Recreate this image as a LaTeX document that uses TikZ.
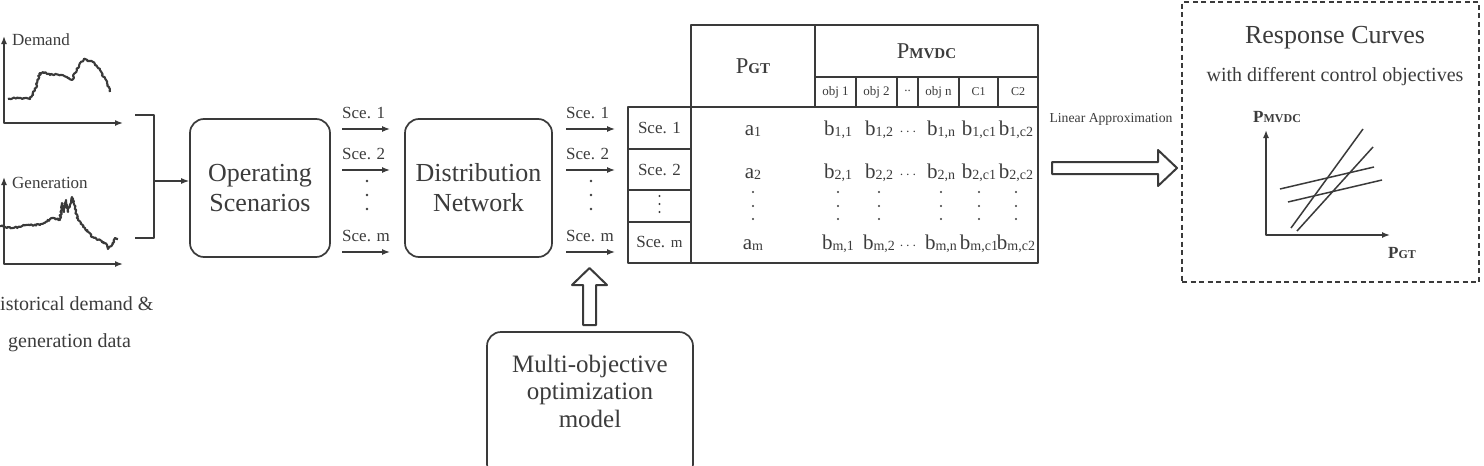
\documentclass[tikz,border=0pt]{standalone}
\usepackage{fontspec}
\setmainfont{Liberation Serif}
\usetikzlibrary{arrows.meta,decorations.pathmorphing}
\definecolor{ink}{HTML}{3A3A3A}
\definecolor{tx}{HTML}{3C3C3C}
\newcommand\sbx[1]{\raisebox{-1pt}{\fontsize{14}{14}\selectfont #1}}
\begin{document}
\begin{tikzpicture}[x=1pt,y=-1pt,line join=round,
  every node/.style={text=tx,inner sep=0pt},
  ln/.style={draw=ink,line width=1.5pt},
  tl/.style={draw=ink,line width=1.7pt},
  box/.style={draw=ink,line width=1.7pt,rounded corners=14pt},
  arr/.style={draw=ink,line width=1.3pt,-{Latex[length=8pt,width=6pt]}},
  axis/.style={draw=ink,line width=1.5pt,{Latex[length=8pt,width=6pt]}-{Latex[length=8pt,width=6pt]}},
  hollow/.style={draw=ink,line width=2pt,fill=white},
  noisy/.style={draw=ink,line width=2.1pt,decorate,decoration={random steps,segment length=1.3pt,amplitude=0.9pt}},
  lbl/.style={font=\fontsize{17}{17}\selectfont},
  big/.style={font=\fontsize{26}{30}\selectfont,align=center},
  cell/.style={font=\fontsize{21}{21}\selectfont,anchor=base},
  dot/.style={fill=tx}
]
\pgfmathsetseed{7}
\clip (0,0) rectangle (1484,466);
\fill[white] (0,0) rectangle (1484,466);

% ---------- demand graph ----------
\coordinate (dY) at (4,36);
\coordinate (dO) at (4,123);
\coordinate (dX) at (123,123);
\draw[axis] (dY) -- (dO) -- (dX);
\node[lbl,anchor=base west] (dlab) at (12,45) {Demand};
\draw[noisy] (8,99) -- (18,98) -- (30,99) -- (35,90) -- (40,73) -- (43,72) -- (50,75) -- (56,74) -- (62,75) -- (67,77) -- (72,80) -- (75,73) -- (80,63) -- (85,59) -- (88,61) -- (93,62) -- (100,70) -- (107,83) -- (110,92);

% ---------- generation graph ----------
\coordinate (gY) at (4,177);
\coordinate (gO) at (4,264);
\coordinate (gX) at (123,264);
\draw[axis] (gY) -- (gO) -- (gX);
\node[lbl,anchor=base west] (glab) at (12,188) {Generation};
\draw[noisy] (0,226) -- (13,228) -- (27,225) -- (40,225) -- (53,218) -- (60,220) -- (62,203) -- (64,212) -- (66,200) -- (68,212) -- (72,197) -- (75,208) -- (78,220) -- (85,228) -- (92,237) -- (100,240) -- (107,245) -- (108,249) -- (112,245) -- (115,238) -- (118,239);

\node[font=\fontsize{20}{20}\selectfont,anchor=base west] (hist1) at (0,310) {istorical demand \&};
\node[font=\fontsize{20}{20}\selectfont,anchor=base west] (hist2) at (8,347) {generation data};

% ---------- bracket ----------
\coordinate (bT) at (135,115);
\coordinate (bB) at (135,238);
\coordinate (bM) at (154,181);
\draw[ln] (bT) -- (154,115) -- (154,238) -- (bB);

% ---------- boxes ----------
\node[box,big,minimum width=140pt,minimum height=138pt] (os) at (260,188) {Operating\\Scenarios};
\node[box,big,minimum width=147pt,minimum height=138pt] (dn) at (478.5,188) {Distribution\\Network};
\draw[arr] (bM) -- (bM -| os.west);

% scenario arrows
\foreach \n/\y/\t in {1/129/Sce. 1,2/170/Sce. 2,m/252/Sce. m}{
  \coordinate (a\n s) at (342,\y);
  \coordinate (a\n e) at (390,\y);
  \draw[arr] (a\n s) -- (a\n e);
  \node[lbl,anchor=base west] (la\n) at (342,\y-11) {\t};
  \coordinate (b\n s) at (566,\y);
  \coordinate (b\n e) at (615,\y);
  \draw[arr] (b\n s) -- (b\n e);
  \node[lbl,anchor=base west] (lb\n) at (566,\y-11) {\t};
}
\foreach \x in {367,591}{
  \foreach \y in {181,195,209} \fill[dot] (\x,\y) circle (1.3pt);
}

% ---------- table ----------
\draw[tl] (691,25) rectangle (1038,107);
\draw[tl] (815,25) -- (815,107);
\draw[tl] (815,77) -- (1038,77);
\foreach \x in {856,897,918,959,998} \draw[tl] (\x,77) -- (\x,107);
\draw[tl] (628,107) rectangle (1038,263);
\draw[tl] (691,107) -- (691,263);
\foreach \y in {149,190,222} \draw[tl] (628,\y) -- (691,\y);

\node[font=\fontsize{22.6}{24}\selectfont] (hpgt) at (753,66) {P{\fontsize{15}{15}\selectfont\bfseries GT}};
\node[font=\fontsize{22.6}{24}\selectfont] (hpm) at (926.5,51) {P{\fontsize{15}{15}\selectfont\bfseries MVDC}};
\node[font=\fontsize{13}{13}\selectfont] (o1) at (835.5,92) {obj 1};
\node[font=\fontsize{13}{13}\selectfont] (o2) at (876.5,92) {obj 2};
\node[font=\fontsize{13}{13}\selectfont] (od) at (907.5,91) {..};
\node[font=\fontsize{13}{13}\selectfont] (on) at (938.5,92) {obj n};
\node[font=\fontsize{12}{12}\selectfont] (c1) at (978.5,92) {C1};
\node[font=\fontsize{12}{12}\selectfont] (c2) at (1018,92) {C2};

\node[lbl] (s1) at (659.5,128) {Sce. 1};
\node[lbl] (s2) at (659.5,170) {Sce. 2};
\foreach \y in {196,204,212} \fill[dot] (659.5,\y) circle (1.2pt);
\node[lbl] (sm) at (659.5,242) {Sce. {\fontsize{15}{15}\selectfont m}};

\foreach \r/\y in {1/135,2/178,m/249}{
  \node[cell] (ta\r) at (753,\y) {a\sbx{\r}};
  \node[cell] (tb\r a) at (838,\y) {b\sbx{\r,1}};
  \node[cell] (tb\r b) at (879,\y) {b\sbx{\r,2}};
  \node[anchor=base,font=\fontsize{14}{14}\selectfont] (tb\r c) at (908,\y) {$\cdots$};
  \node[cell] (tb\r d) at (941,\y) {b\sbx{\r,n}};
  \node[cell] (tb\r e) at (979,\y) {b\sbx{\r,c1}};
  \node[cell] (tb\r f) at (1016,\y) {b\sbx{\r,c2}};
}
\foreach \x in {753,838,879,941,979,1016}{
  \foreach \y in {192,206,219} \fill[dot] (\x,\y) circle (1.2pt);
}

% ---------- multi-objective ----------
\node[box,minimum width=206pt,minimum height=146pt] (moo) at (590,405) {};
\node[font=\fontsize{25}{27.5}\selectfont,align=center] (mootxt) at (590,391) {Multi-objective\\optimization\\model};
\coordinate (u1) at (583,325);
\coordinate (u2) at (596,325);
\coordinate (utip) at (589.5,268);
\draw[hollow] (u1) -- (583,285) -- (572,285) -- (utip) -- (607,285) -- (596,285) -- (u2) -- cycle;

% ---------- linear approximation arrow ----------
\node[font=\fontsize{13.7}{14}\selectfont,anchor=base] (lapp) at (1111,122) {Linear Approximation};
\coordinate (r1) at (1052,162);
\coordinate (r2) at (1052,174);
\coordinate (rtip) at (1177,168);
\draw[hollow] (r1) -- (1158,162) -- (1158,150) -- (rtip) -- (1158,186) -- (1158,174) -- (r2) -- cycle;

% ---------- response curves ----------
\node[draw=ink,dashed,dash pattern=on 5pt off 3.5pt,line width=1.5pt,minimum width=297pt,minimum height=280pt] (rc) at (1330.5,142) {};
\node[font=\fontsize{26}{26}\selectfont,anchor=base] (rct) at (1335,43) {Response Curves};
\node[font=\fontsize{20}{20}\selectfont,anchor=base] (rcs) at (1335,81) {with different control objectives};
\coordinate (pY) at (1266,130);
\coordinate (pO) at (1266,235);
\coordinate (pX) at (1390,235);
\draw[axis] (pY) -- (pO) -- (pX);
\node[font=\fontsize{17}{17}\selectfont\bfseries,anchor=base west] (pmv) at (1253,122) {P{\fontsize{12}{12}\selectfont MVDC}};
\node[font=\fontsize{17}{17}\selectfont\bfseries,anchor=base west] (pgt) at (1388,258) {P{\fontsize{12}{12}\selectfont GT}};
\draw[ln] (1291,228) -- (1363,129);
\draw[ln] (1297,231) -- (1373,147);
\draw[ln] (1280,189) -- (1374,167);
\draw[ln] (1288,202) -- (1382,180);
\end{tikzpicture}
\end{document}
